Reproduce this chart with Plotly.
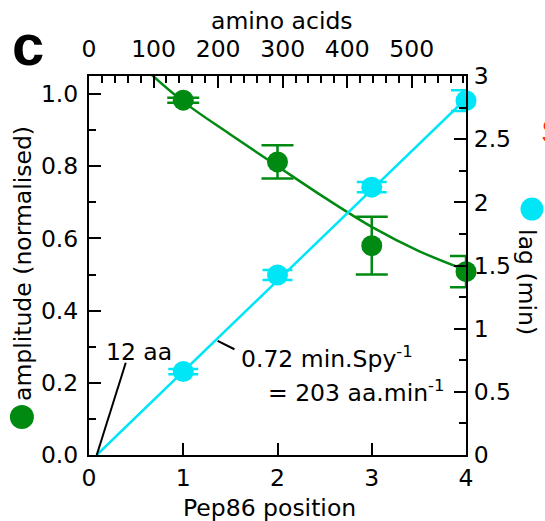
import plotly.graph_objects as go

# ---- data ----
positions = [1, 2, 3, 4]
amplitude = [0.983, 0.812, 0.580, 0.508]
amplitude_err = [0.007, 0.046, 0.080, 0.043]
lag = [0.66, 1.425, 2.12, 2.805]
lag_err = [0.02, 0.04, 0.04, 0.083]

amp_fit_x = [0.5, 1.0, 1.5, 2.0, 2.5, 3.0, 3.5, 4.0]
amp_fit_y = [1.092, 0.979, 0.888, 0.800, 0.713, 0.632, 0.565, 0.512]

lag_fit_x = [0.082, 4.0]
lag_fit_y = [0.0, 2.82]

aa_per_position = 146
x_ticks = [0, 1, 2, 3, 4]

GREEN = "#008a12"
CYAN = "#00e6f6"
FONT = "DejaVu Sans"
FS = 23.5

fig = go.Figure()

# cyan lag series (right axis)
fig.add_trace(go.Scatter(x=lag_fit_x, y=lag_fit_y, mode="lines", yaxis="y2",
                         line=dict(color=CYAN, width=2.5), showlegend=False,
                         hoverinfo="skip"))
fig.add_trace(go.Scatter(x=positions, y=lag, mode="markers", yaxis="y2",
                         marker=dict(color=CYAN, size=21),
                         error_y=dict(type="data", array=lag_err, color=CYAN,
                                      thickness=2.5, width=15),
                         cliponaxis=False, showlegend=False))

# green amplitude series (left axis)
fig.add_trace(go.Scatter(x=amp_fit_x, y=amp_fit_y, mode="lines",
                         line=dict(color=GREEN, width=2.5, shape="spline"),
                         showlegend=False, hoverinfo="skip"))
fig.add_trace(go.Scatter(x=positions, y=amplitude, mode="markers",
                         marker=dict(color=GREEN, size=21),
                         error_y=dict(type="data", array=amplitude_err, color=GREEN,
                                      thickness=2.5, width=16),
                         cliponaxis=False, showlegend=False))

# helper (empty) trace so the top amino-acid axis is drawn
fig.add_trace(go.Scatter(x=[], y=[], xaxis="x2", showlegend=False))

axis_common = dict(showline=True, linecolor="black", linewidth=2,
                   ticks="inside", ticklen=12, tickwidth=2, tickcolor="black",
                   showgrid=False, zeroline=False,
                   tickfont=dict(family=FONT, size=FS, color="black"))
minor_common = dict(ticks="inside", ticklen=7, tickwidth=2, tickcolor="black",
                    showgrid=False)

fig.update_layout(
    width=545, height=521,
    margin=dict(l=89, r=79, t=76, b=66),
    paper_bgcolor="white", plot_bgcolor="white",
    font=dict(family=FONT, size=FS, color="black"),
    xaxis=dict(range=[0, 4], tickvals=x_ticks, anchor="y",
               ticklabelstandoff=1, **axis_common),
    xaxis2=dict(range=[0, 4 * aa_per_position], overlaying="x", side="top",
                anchor="y", dtick=100, tick0=0,
                minor=dict(dtick=20, **minor_common), ticklabelstandoff=8,
                **axis_common),
    yaxis=dict(range=[0, 1.05], dtick=0.2, tick0=0, tickformat=".1f",
               minor=dict(dtick=0.1, **minor_common), ticklabelstandoff=4,
               **axis_common),
    yaxis2=dict(range=[0, 3], dtick=0.5, tick0=0, overlaying="y", side="right",
                anchor="x", minor=dict(dtick=0.25, **minor_common),
                ticklabelstandoff=1, **axis_common),
)

# pointer lines for the annotations
fig.add_shape(type="line", xref="x", yref="y2", x0=0.39, y0=0.73, x1=0.082, y1=0.0,
              line=dict(color="black", width=2))
fig.add_shape(type="line", xref="x", yref="y2", x0=1.365, y0=0.903, x1=1.543, y1=0.837,
              line=dict(color="black", width=2))

# legend dots next to axis titles
fig.add_shape(type="circle", xref="paper", yref="paper", xsizemode="pixel",
              ysizemode="pixel", xanchor=-0.178, yanchor=0.100,
              x0=-12, x1=12, y0=-12, y1=12, fillcolor=GREEN, line=dict(width=0))
fig.add_shape(type="circle", xref="paper", yref="paper", xsizemode="pixel",
              ysizemode="pixel", xanchor=1.175, yanchor=0.649,
              x0=-11.5, x1=11.5, y0=-11.5, y1=11.5, fillcolor=CYAN, line=dict(width=0))

ann = [
    dict(text="amplitude (normalised)", xref="paper", yref="paper", x=-0.175, y=0.504,
         textangle=-90, xanchor="center", yanchor="middle"),
    dict(text="lag (min)", xref="paper", yref="paper", x=1.162, y=0.456,
         textangle=90, xanchor="center", yanchor="middle"),
    dict(text="amino acids", xref="paper", yref="paper", x=0.512, y=1.145,
         xanchor="center", yanchor="middle"),
    dict(text="Pep86 position", xref="paper", yref="paper", x=0.478, y=-0.14,
         xanchor="center", yanchor="middle"),
    dict(text="<b>c</b>", xref="paper", yref="paper", x=-0.162, y=1.082,
         xanchor="center", yanchor="middle",
         font=dict(family="Liberation Sans", size=58, color="black")),
    dict(text="S", xref="paper", yref="paper", x=1.194, y=0.855,
         xanchor="left", yanchor="middle",
         font=dict(family="Liberation Sans", size=34, color="#ff2a1a")),
    dict(text="12 aa", xref="x", yref="y2", x=0.532, y=0.818,
         xanchor="center", yanchor="middle"),
    dict(text="0.72 min.Spy<sup>-1</sup>", xref="x", yref="y2", x=1.596, y=0.768,
         xanchor="left", yanchor="middle"),
    dict(text="= 203 aa.min<sup>-1</sup>", xref="x", yref="y2", x=1.88, y=0.50,
         xanchor="left", yanchor="middle"),
]
for a in ann:
    a.setdefault("font", dict(family=FONT, size=FS, color="black"))
    a["showarrow"] = False
    fig.add_annotation(**a)

fig.write_html("out.html",
               config={"displayModeBar": False},
               post_script="document.body.style.margin='0';"
                           "document.body.style.overflow='hidden';")
